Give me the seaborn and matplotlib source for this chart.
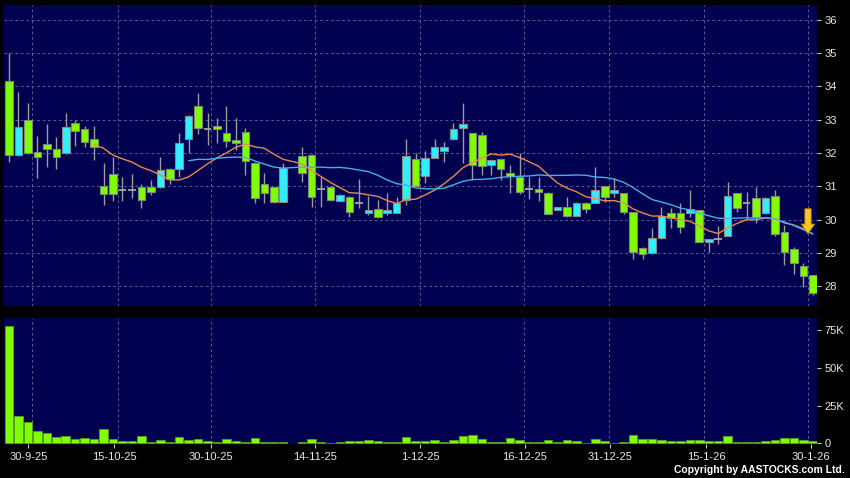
import matplotlib
matplotlib.use("Agg")
import matplotlib.pyplot as plt
import numpy as np
import pandas as pd
import seaborn as sns

# ---------------- data: one slot per session (slot 30: no trade) ----------------
opens = [34.17, 31.94, 32.99, 32.02, 32.26, 32.11, 31.99, 32.89, 32.71, 32.41,
         31.02, 31.36, 30.89, 30.89, 30.98, 30.98, 30.98, 31.51, 31.51, 32.41,
         33.41, 32.72, 32.81, 32.61, 32.39, 32.64, 31.69, 31.06, 30.97, 30.54,
         None, 31.91, 31.94, 30.91, 30.99, 30.57, 30.69, 30.49, 30.20, 30.31,
         30.19, 30.20, 30.59, 31.81, 31.31, 31.86, 32.07, 32.41, 32.74, 32.59,
         32.55, 31.64, 31.81, 31.41, 31.29, 30.91, 30.91, 30.81, 30.29, 30.37,
         30.11, 30.51, 30.51, 31.01, 30.79, 30.79, 30.22, 29.13, 28.98, 29.43,
         30.20, 30.20, 30.19, 30.29, 29.32, 29.40, 29.50, 30.79, 30.51, 30.64,
         30.20, 30.72, 29.63, 29.10, 28.60, 28.33]
highs = [35.00, 33.84, 33.51, 32.51, 32.87, 32.47, 33.21, 33.00, 32.81, 32.81,
         31.69, 31.87, 31.29, 31.36, 31.07, 31.19, 31.89, 31.56, 32.61, 33.15,
         33.81, 33.19, 33.04, 33.41, 33.04, 32.75, 31.72, 31.41, 30.99, 31.71,
         None, 32.19, 31.96, 31.29, 31.01, 30.76, 30.71, 31.21, 30.71, 30.59,
         30.79, 30.67, 32.42, 31.99, 32.07, 32.41, 32.34, 32.89, 33.51, 32.60,
         32.62, 31.80, 31.82, 31.64, 31.99, 31.27, 31.27, 30.84, 30.38, 30.69,
         30.54, 30.54, 31.57, 31.02, 31.24, 30.80, 30.23, 29.18, 29.74, 30.37,
         30.34, 30.51, 30.89, 30.30, 29.41, 29.80, 31.14, 30.80, 30.84, 30.99,
         30.69, 30.89, 29.83, 29.18, 28.68, 28.34]
lows = [31.74, 31.90, 31.98, 31.24, 31.59, 31.51, 31.97, 32.21, 32.17, 31.79,
        30.44, 30.57, 30.56, 30.64, 30.34, 30.74, 30.95, 31.07, 31.29, 31.99,
        32.57, 32.24, 32.31, 32.19, 32.09, 31.34, 30.51, 30.51, 30.51, 30.52,
        None, 31.14, 30.39, 30.39, 30.57, 30.55, 30.08, 30.34, 30.14, 30.04,
        30.15, 30.19, 30.45, 31.00, 31.09, 31.85, 31.74, 32.40, 31.71, 31.19,
        31.34, 31.34, 31.19, 30.79, 30.77, 30.61, 30.57, 30.16, 30.28, 30.07,
        30.10, 30.19, 30.50, 30.54, 30.69, 30.17, 28.80, 28.80, 28.97, 29.42,
        29.74, 29.60, 30.08, 29.32, 29.03, 29.26, 29.49, 30.23, 30.04, 29.89,
        30.18, 29.50, 28.63, 28.36, 27.98, 27.73]
closes = [31.94, 32.79, 32.01, 31.87, 32.11, 31.87, 32.79, 32.67, 32.34, 32.19,
          30.76, 30.76, 30.89, 30.89, 30.59, 30.82, 31.49, 31.21, 32.29, 33.11,
          32.74, 32.72, 32.71, 32.37, 32.29, 31.76, 30.64, 30.79, 30.54, 31.54,
          None, 31.39, 30.69, 30.91, 30.59, 30.74, 30.23, 30.49, 30.29, 30.08,
          30.29, 30.49, 31.90, 31.01, 31.86, 32.17, 32.17, 32.71, 32.87, 31.64,
          31.62, 31.79, 31.51, 31.31, 30.84, 30.91, 30.84, 30.17, 30.37, 30.11,
          30.51, 30.31, 30.89, 30.69, 30.89, 30.22, 29.03, 28.96, 29.43, 30.11,
          30.04, 29.77, 30.31, 29.33, 29.40, 29.40, 30.71, 30.35, 30.51, 30.08,
          30.64, 29.55, 29.03, 28.68, 28.30, 27.80]
volumes = [77800, 18300, 14300, 8400, 6600, 4400, 4800, 2600, 3300, 2600,
           9500, 2800, 1500, 1500, 4800, 1100, 2200, 700, 4400, 2200,
           2600, 1300, 1100, 2600, 1300, 1100, 3300, 700, 700, 700,
           None, 700, 2800, 1100, 300, 900, 1500, 1500, 2000, 1800,
           1100, 900, 4200, 1500, 1500, 2200, 700, 2200, 4800, 5700,
           3100, 1100, 1100, 3500, 2400, 1100, 700, 2000, 900, 2000,
           1500, 500, 2800, 1500, 500, 700, 5700, 2800, 2600, 2000,
           1300, 1800, 2000, 2000, 1300, 1300, 5100, 900, 900, 900,
           1300, 2000, 3500, 3500, 2000, 1500]
date_labels = ['30-9-25', '15-10-25', '30-10-25', '14-11-25', '1-12-25',
               '16-12-25', '31-12-25', '15-1-26', '30-1-26']
price_ticks = [28, 29, 30, 31, 32, 33, 34, 35, 36]
volume_ticks = [0, 25000, 50000, 75000]
volume_tick_labels = ['0', '25K', '50K', '75K']

# ---------------- layout ----------------
label_pos = [2.04, 11.14, 21.33, 32.39, 43.46, 54.57, 63.59, 73.71, 84.81]
grid_pos = [2.46, 11.49, 21.36, 32.39, 43.46, 54.43, 63.48, 73.47, 84.47]

sns.set_theme(style="dark")
plt.rcParams['font.family'] = ['Liberation Sans', 'DejaVu Sans']

BG = '#000050'
GRID = '#5a5a9c'
TXT = '#e8e8e8'
LIME = '#80ff00'
CYAN = '#2ef0ff'

df = pd.DataFrame({'slot': np.arange(len(opens)), 'open': opens, 'high': highs,
                   'low': lows, 'close': closes, 'volume': volumes}, dtype=float)
tr = df.dropna(subset=['close']).copy()
tr['ma10'] = tr['close'].rolling(10).mean()
tr['ma20'] = tr['close'].rolling(20).mean()

fig = plt.figure(figsize=(8.5, 4.78), dpi=100, facecolor='black')
W, H = 850.0, 478.0
ax1 = fig.add_axes([4 / W, 1 - 306 / H, 813 / W, 301 / H])
ax2 = fig.add_axes([4 / W, 1 - 444 / H, 813 / W, 126 / H])

gridkw = dict(color=GRID, linestyle=(0, (2.8, 2.8)), linewidth=0.7)

# ---- price panel ----
ax1.set_facecolor(BG)
up = tr[tr['close'] > tr['open']]
dn = tr[tr['close'] < tr['open']]
dj = tr[tr['close'] == tr['open']]
ax1.vlines(tr['slot'], tr['low'], tr['high'], color='#9c9c9c', lw=1.0, zorder=2)
ax1.bar(up['slot'], up['close'] - up['open'], bottom=up['open'], width=0.8,
        color=CYAN, edgecolor='#8a8a8a', linewidth=0.8, zorder=3)
ax1.bar(dn['slot'], dn['open'] - dn['close'], bottom=dn['close'], width=0.8,
        color=LIME, edgecolor='#7c8a72', linewidth=0.8, zorder=3)
ax1.hlines(dj['open'], dj['slot'] - 0.4, dj['slot'] + 0.4, color='#a8a8a8',
           lw=1.3, zorder=3)
sns.lineplot(data=tr, x='slot', y='ma10', ax=ax1, color='#e88a50', lw=1.0,
             zorder=4, legend=False)
sns.lineplot(data=tr, x='slot', y='ma20', ax=ax1, color='#4aaee8', lw=1.0,
             zorder=5, legend=False)
last = tr.dropna(subset=['ma20']).iloc[-1]
ax1.annotate('', xy=(last['slot'] - 0.5, last['ma20']), xytext=(0, 18),
             textcoords='offset points', zorder=6,
             arrowprops=dict(arrowstyle='simple,head_length=0.7,head_width=0.95,tail_width=0.45',
                             fc='#ffc425', ec='#b88a10', lw=0.6, mutation_scale=10,
                             shrinkA=0, shrinkB=0))
ax1.set_xlim(-0.53, 85.45)
ax1.set_ylim(27.40, 36.45)
ax1.set_xticks(grid_pos)
ax1.set_xticklabels([])
ax1.tick_params(axis='x', length=0)
ax1.yaxis.tick_right()
ax1.set_yticks(price_ticks)
ax1.set_yticklabels([str(t) for t in price_ticks])
ax1.tick_params(axis='y', which='major', length=3, width=0.8, color='#c8c8c8',
                labelcolor=TXT, labelsize=8, pad=2.5, right=True, left=False)
ax1.grid(True, which='major', **gridkw)
ax1.set_xlabel('')
ax1.set_ylabel('')
for s in ax1.spines.values():
    s.set_visible(False)

# ---- volume panel ----
ax2.set_facecolor(BG)
sns.barplot(data=df.dropna(subset=['volume']), x='slot', y='volume', ax=ax2,
            native_scale=True, color=LIME, saturation=1, width=0.9,
            errorbar=None, edgecolor='#5aa822', linewidth=0.5, zorder=3)
ax2.set_xlim(-0.53, 85.45)
ax2.set_ylim(-450, 82900)
ax2.set_xticks(label_pos)
ax2.set_xticklabels(date_labels)
ax2.set_xticks(grid_pos, minor=True)
ax2.yaxis.tick_right()
ax2.set_yticks(volume_ticks)
ax2.set_yticklabels(volume_tick_labels)
ax2.set_yticks(volume_ticks[1:], minor=True)
ax2.tick_params(axis='x', which='major', length=3, width=0.8, color='#c8c8c8',
                labelcolor=TXT, labelsize=8, pad=3, bottom=True)
ax2.tick_params(axis='x', which='minor', length=0)
ax2.tick_params(axis='y', which='major', length=3, width=0.8, color='#c8c8c8',
                labelcolor=TXT, labelsize=8, pad=2.5, right=True, left=False)
ax2.tick_params(axis='y', which='minor', length=0)
ax2.grid(False)
ax2.grid(True, which='minor', **gridkw)
ax2.set_axisbelow(True)
ax2.set_xlabel('')
ax2.set_ylabel('')
for s in ax2.spines.values():
    s.set_visible(False)

fig.text(845 / W, 1 - 470 / H, 'Copyright by AASTOCKS.com Ltd.', ha='right',
         va='center', color='white', fontsize=7.5, fontweight='bold')

fig.savefig('out.png', dpi=100, facecolor='black')
